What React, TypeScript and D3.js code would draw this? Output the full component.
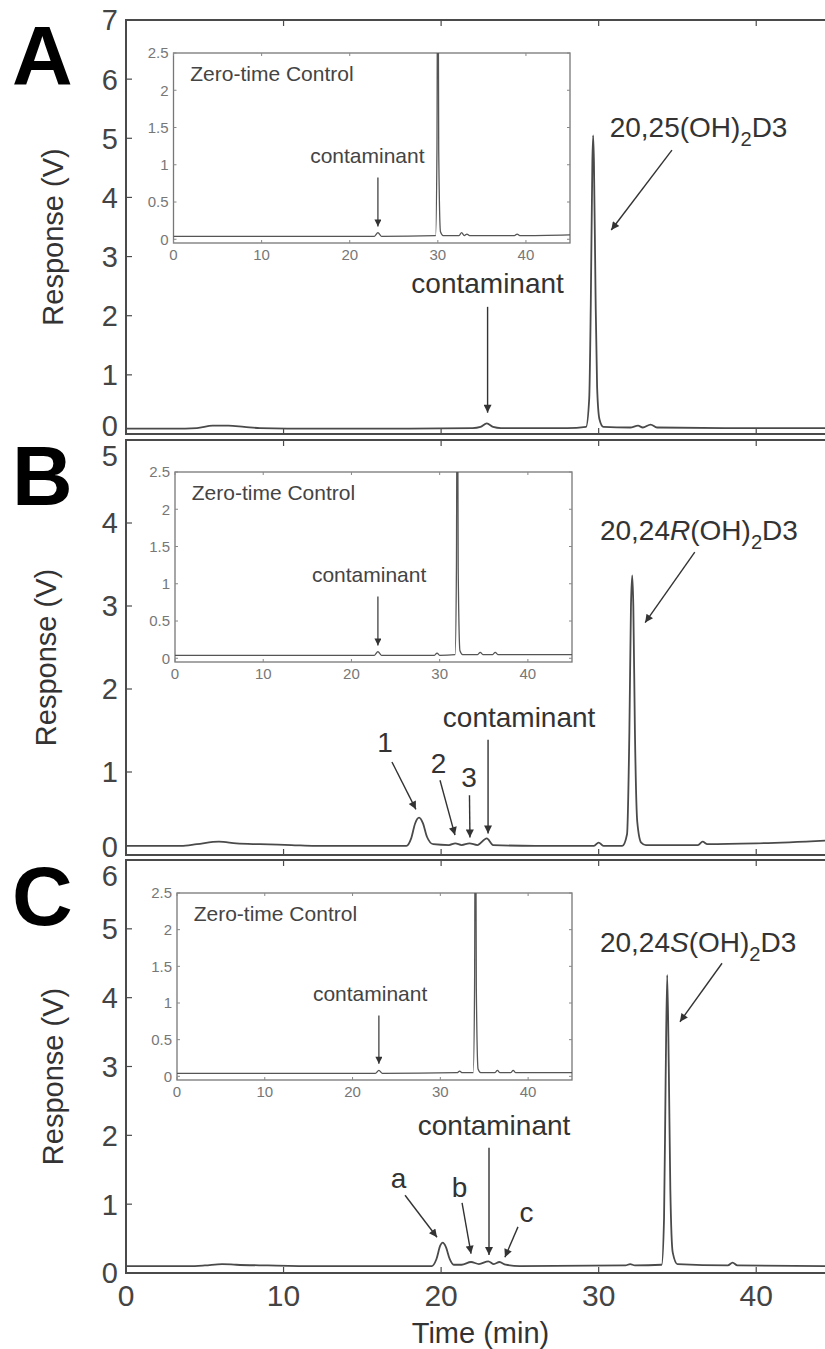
import React from 'react';
import * as d3 from 'd3';

// time axis (min)
const xTicks = [0, 10, 20, 30, 40];
const insetXTicks = [0, 10, 20, 30, 40];
const insetYTicks = [0, 0.5, 1, 1.5, 2, 2.5];

const panelLetters = ['A', 'B', 'C'];
const yMaxes = [7, 5, 6];
const yTicksA = [0, 1, 2, 3, 4, 5, 6, 7];
const yTicksB = [0, 1, 2, 3, 4, 5];
const yTicksC = [0, 1, 2, 3, 4, 5, 6];

// main chromatograms: [time (min), response (V)]
const traceA: [number, number][] = [
  [0, 0.09], [3, 0.09], [4.5, 0.1], [5.5, 0.14], [6.5, 0.14], [7.5, 0.12], [8.5, 0.1], [12, 0.09],
  [18, 0.09], [22, 0.1], [22.5, 0.12], [22.9, 0.18], [23.3, 0.12], [23.8, 0.1], [28, 0.1],
  [29.2, 0.12], [29.4, 0.6], [29.5, 2.2], [29.6, 4.6], [29.65, 5.05], [29.7, 4.6], [29.8, 2.4],
  [29.9, 0.8], [30.05, 0.25], [30.3, 0.12], [32, 0.11], [32.5, 0.14], [32.8, 0.11], [33.3, 0.16],
  [33.7, 0.11], [38, 0.1], [45, 0.1],
];
const traceB: [number, number][] = [
  [0, 0.11], [3.5, 0.11], [4.5, 0.13], [5.9, 0.16], [7, 0.14], [8.5, 0.13], [10.5, 0.12], [12, 0.11],
  [17.8, 0.11], [18.1, 0.2], [18.35, 0.38], [18.6, 0.45], [18.85, 0.38], [19.1, 0.22], [19.5, 0.13],
  [20.5, 0.12], [20.9, 0.14], [21.3, 0.12], [21.8, 0.14], [22.3, 0.12], [22.9, 0.2], [23.3, 0.12],
  [26, 0.11], [29.7, 0.11], [30.0, 0.15], [30.3, 0.11], [31.5, 0.11], [31.8, 0.25], [31.95, 1.5],
  [32.05, 3.0], [32.13, 3.37], [32.2, 3.0], [32.3, 1.5], [32.45, 0.4], [32.7, 0.15], [33, 0.12],
  [36.3, 0.12], [36.6, 0.16], [36.9, 0.13], [40, 0.14], [45, 0.18],
];
const traceC: [number, number][] = [
  [0, 0.1], [4, 0.1], [5, 0.11], [6.1, 0.13], [7, 0.12], [9, 0.11], [12, 0.1], [19.4, 0.1],
  [19.7, 0.2], [19.95, 0.4], [20.1, 0.44], [20.3, 0.38], [20.55, 0.2], [20.8, 0.12], [21.3, 0.12],
  [21.9, 0.16], [22.4, 0.13], [23.0, 0.17], [23.35, 0.13], [23.7, 0.16], [24.1, 0.12], [25, 0.1],
  [31.7, 0.11], [32, 0.13], [32.3, 0.11], [34, 0.12], [34.15, 0.8], [34.25, 2.8], [34.35, 4.33],
  [34.45, 3.0], [34.55, 1.2], [34.7, 0.3], [35, 0.13], [38.2, 0.11], [38.5, 0.15], [38.8, 0.11],
  [45, 0.1],
];

// zero-time control insets
const insetA: [number, number][] = [
  [0, 0.04], [22.8, 0.04], [23.2, 0.09], [23.6, 0.04], [29.75, 0.05], [29.9, 1.2], [30.0, 5],
  [30.1, 1.2], [30.3, 0.1], [30.6, 0.05], [32.4, 0.05], [32.7, 0.09], [33.0, 0.05], [33.3, 0.07],
  [33.6, 0.05], [38.7, 0.05], [39.0, 0.07], [39.3, 0.05], [45, 0.06],
];
const insetB: [number, number][] = [
  [0, 0.04], [22.6, 0.04], [23.0, 0.09], [23.4, 0.04], [29.4, 0.04], [29.7, 0.07], [30, 0.04],
  [31.75, 0.05], [31.9, 1.2], [32.0, 5], [32.1, 1.2], [32.3, 0.1], [32.6, 0.05], [34.3, 0.05],
  [34.6, 0.08], [34.9, 0.05], [36.0, 0.05], [36.3, 0.08], [36.6, 0.05], [45, 0.05],
];
const insetC: [number, number][] = [
  [0, 0.04], [22.6, 0.04], [23.0, 0.08], [23.4, 0.04], [31.9, 0.05], [32.2, 0.07], [32.5, 0.05],
  [33.75, 0.05], [33.9, 1.2], [34.0, 5], [34.1, 1.2], [34.3, 0.1], [34.6, 0.05], [36.2, 0.05],
  [36.5, 0.08], [36.8, 0.05], [38.0, 0.05], [38.3, 0.08], [38.6, 0.05], [45, 0.05],
];
const insetContaminantTimes = [23.2, 23.0, 23.0];

type Seg = { t: string; italic?: boolean; sub?: boolean };
type Ann = { parts: Seg[]; tx: number; ty: number; anchor: string; x1: number; y1: number; x2: number; y2: number };

// annotations in data coordinates (time, V)
const annA: Ann[] = [
  { parts: [{ t: '20,25(OH)' }, { t: '2', sub: true }, { t: 'D3' }], tx: 30.7, ty: 5.02, anchor: 'start', x1: 34.65, y1: 4.8, x2: 30.8, y2: 3.45 },
  { parts: [{ t: 'contaminant' }], tx: 22.95, ty: 2.38, anchor: 'middle', x1: 22.95, y1: 2.15, x2: 22.95, y2: 0.36 },
];
const annB: Ann[] = [
  { parts: [{ t: '20,24' }, { t: 'R', italic: true }, { t: '(OH)' }, { t: '2', sub: true }, { t: 'D3' }], tx: 30.08, ty: 3.8, anchor: 'start', x1: 36.1, y1: 3.65, x2: 32.95, y2: 2.8 },
  { parts: [{ t: 'contaminant' }], tx: 24.95, ty: 1.54, anchor: 'middle', x1: 22.98, y1: 1.39, x2: 22.98, y2: 0.26 },
  { parts: [{ t: '1' }], tx: 16.44, ty: 1.24, anchor: 'middle', x1: 16.88, y1: 1.12, x2: 18.4, y2: 0.55 },
  { parts: [{ t: '2' }], tx: 19.83, ty: 0.99, anchor: 'middle', x1: 19.93, y1: 0.9, x2: 20.88, y2: 0.24 },
  { parts: [{ t: '3' }], tx: 21.77, ty: 0.82, anchor: 'middle', x1: 21.8, y1: 0.72, x2: 21.83, y2: 0.21 },
];
const annC: Ann[] = [
  { parts: [{ t: '20,24' }, { t: 'S', italic: true }, { t: '(OH)' }, { t: '2', sub: true }, { t: 'D3' }], tx: 30.08, ty: 4.66, anchor: 'start', x1: 37.83, y1: 4.5, x2: 35.16, y2: 3.65 },
  { parts: [{ t: 'contaminant' }], tx: 23.36, ty: 2.0, anchor: 'middle', x1: 23.04, y1: 1.82, x2: 23.04, y2: 0.26 },
  { parts: [{ t: 'a' }], tx: 17.3, ty: 1.23, anchor: 'middle', x1: 17.71, y1: 1.13, x2: 19.74, y2: 0.52 },
  { parts: [{ t: 'b' }], tx: 21.17, ty: 1.1, anchor: 'middle', x1: 21.33, y1: 1.02, x2: 21.9, y2: 0.28 },
  { parts: [{ t: 'c' }], tx: 25.42, ty: 0.74, anchor: 'middle', x1: 24.88, y1: 0.67, x2: 24.05, y2: 0.23 },
];

const W = 825;
const H = 1349;
const FONT = "'Liberation Sans', Arial, Helvetica, sans-serif";
const plotLeft = 126;
const plotRight = 835;
const boxes = [
  { top: 20, bottom: 434 },
  { top: 440, bottom: 855 },
  { top: 860, bottom: 1273 },
];
const insetBoxes = [
  { left: 173.5, right: 570, top: 53, bottom: 243 },
  { left: 175, right: 572, top: 472, bottom: 662 },
  { left: 177, right: 572, top: 893, bottom: 1080 },
];
const yLabelX = [63, 56, 63];

const traces = [traceA, traceB, traceC];
const insets = [insetA, insetB, insetC];
const yTicks = [yTicksA, yTicksB, yTicksC];
const anns = [annA, annB, annC];

const LINE = '#4a4a4a';
const TEXT = '#333';

function Label({ a, x, y, size }: { a: Ann; x: (v: number) => number; y: (v: number) => number; size: number }) {
  return (
    <g>
      <line x1={x(a.x1)} y1={y(a.y1)} x2={x(a.x2)} y2={y(a.y2)} stroke="#333" strokeWidth={1.4} markerEnd="url(#arrow)" />
      <text x={x(a.tx)} y={y(a.ty)} textAnchor={a.anchor} fontSize={size} fill={TEXT} fontFamily={FONT}>
        {a.parts.map((p, i) => {
          const prevSub = i > 0 && a.parts[i - 1].sub;
          const dy = p.sub ? size * 0.32 : prevSub ? -size * 0.32 : 0;
          return (
            <tspan key={i} dy={dy} fontStyle={p.italic ? 'italic' : 'normal'} fontSize={p.sub ? size * 0.72 : size}>
              {p.t}
            </tspan>
          );
        })}
      </text>
    </g>
  );
}

function Panel({ idx }: { idx: number }) {
  const box = boxes[idx];
  const ib = insetBoxes[idx];
  const x = d3.scaleLinear().domain([0, 45]).range([plotLeft, plotRight]);
  const y = d3.scaleLinear().domain([0, yMaxes[idx]]).range([box.bottom, box.top]);
  const ix = d3.scaleLinear().domain([0, 45]).range([ib.left, ib.right]);
  const iy = d3.scaleLinear().domain([-0.05, 2.5]).range([ib.bottom, ib.top]);

  const line = d3.line<[number, number]>().x(d => x(d[0])).y(d => y(d[1])).curve(d3.curveMonotoneX);
  const iline = d3.line<[number, number]>().x(d => ix(d[0])).y(d => iy(d[1])).curve(d3.curveMonotoneX);

  const ct = insetContaminantTimes[idx];

  return (
    <g>
      <defs>
        <clipPath id={`clip-main-${idx}`}>
          <rect x={plotLeft} y={box.top} width={plotRight - plotLeft} height={box.bottom - box.top} />
        </clipPath>
        <clipPath id={`clip-inset-${idx}`}>
          <rect x={ib.left} y={ib.top} width={ib.right - ib.left} height={ib.bottom - ib.top} />
        </clipPath>
      </defs>

      {/* panel letter */}
      <text x={12} y={[85, 505, 925][idx]} fontSize={84} fontWeight="bold" fontFamily={FONT} fill="#000">
        {panelLetters[idx]}
      </text>

      {/* y label */}
      <text
        transform={`translate(${yLabelX[idx]},${(box.top + box.bottom) / 2 + 10}) rotate(-90)`}
        textAnchor="middle" fontSize={29} fill={TEXT} fontFamily={FONT}
      >
        Response (V)
      </text>

      {/* main frame */}
      <rect x={plotLeft} y={box.top} width={plotRight - plotLeft} height={box.bottom - box.top} fill="none" stroke={LINE} strokeWidth={2} />
      {yTicks[idx].map(t => {
        let ly = y(t);
        if (idx > 0) ly = Math.max(ly, box.top + 16);
        if (idx < 2) ly = Math.min(ly, box.bottom - 8);
        return (
          <g key={t}>
            <line x1={plotLeft} x2={plotLeft + 6} y1={y(t)} y2={y(t)} stroke={LINE} strokeWidth={1.2} />
            <text x={118} y={ly} dy="0.36em" textAnchor="end" fontSize={29} fill="#444" fontFamily={FONT}>{t}</text>
          </g>
        );
      })}
      {xTicks.filter(t => t > 0).map(t => (
        <g key={t}>
          <line x1={x(t)} x2={x(t)} y1={box.bottom} y2={box.bottom - 6} stroke={LINE} strokeWidth={1.2} />
          <line x1={x(t)} x2={x(t)} y1={box.top} y2={box.top + 6} stroke={LINE} strokeWidth={1.2} />
        </g>
      ))}
      {idx === 2 && xTicks.map(t => (
        <text key={t} x={x(t)} y={box.bottom + 33} textAnchor="middle" fontSize={30} fill="#444" fontFamily={FONT}>{t}</text>
      ))}

      {/* main trace */}
      <path d={line(traces[idx]) || ''} fill="none" stroke={LINE} strokeWidth={1.8} clipPath={`url(#clip-main-${idx})`} />

      {/* annotations */}
      {anns[idx].map((a, i) => <Label key={i} a={a} x={x} y={y} size={28} />)}

      {/* inset */}
      <rect x={ib.left} y={ib.top} width={ib.right - ib.left} height={ib.bottom - ib.top} fill="#fff" stroke="#777" strokeWidth={1.3} />
      {insetYTicks.map(t => (
        <g key={t}>
          <line x1={ib.left} x2={ib.left + 3} y1={iy(t)} y2={iy(t)} stroke="#888" />
          <line x1={ib.right} x2={ib.right - 3} y1={iy(t)} y2={iy(t)} stroke="#888" />
          <text x={ib.left - 5} y={iy(t)} dy="0.36em" textAnchor="end" fontSize={15} fill="#777" fontFamily={FONT}>{t}</text>
        </g>
      ))}
      {insetXTicks.map(t => (
        <g key={t}>
          <line x1={ix(t)} x2={ix(t)} y1={ib.bottom} y2={ib.bottom - 3} stroke="#888" />
          <line x1={ix(t)} x2={ix(t)} y1={ib.top} y2={ib.top + 3} stroke="#888" />
          <text x={ix(t)} y={ib.bottom + 17} textAnchor="middle" fontSize={15} fill="#777" fontFamily={FONT}>{t}</text>
        </g>
      ))}
      <path d={iline(insets[idx]) || ''} fill="none" stroke="#555" strokeWidth={1.3} clipPath={`url(#clip-inset-${idx})`} />
      <text x={ix(1.9)} y={iy(2.12)} fontSize={21} fill="#444" fontFamily={FONT}>Zero-time Control</text>
      <text x={ix(22.0)} y={iy(1.03)} textAnchor="middle" fontSize={21} fill="#444" fontFamily={FONT}>contaminant</text>
      <line x1={ix(ct)} y1={iy(0.83)} x2={ix(ct)} y2={iy(0.17)} stroke="#333" strokeWidth={1.2} markerEnd="url(#arrowSmall)" />
    </g>
  );
}

export default function App() {
  return (
    <div style={{ position: 'absolute', left: 0, top: 0, width: W, height: H, overflow: 'hidden', background: '#fff' }}>
      <svg width={W} height={H} viewBox={`0 0 ${W} ${H}`} style={{ display: 'block' }}>
        <defs>
          <marker id="arrow" viewBox="0 0 10 10" refX={10} refY={5} markerWidth={10} markerHeight={8} markerUnits="userSpaceOnUse" orient="auto">
            <path d="M0,0 L10,5 L0,10 z" fill="#333" />
          </marker>
          <marker id="arrowSmall" viewBox="0 0 10 10" refX={10} refY={5} markerWidth={8} markerHeight={7} markerUnits="userSpaceOnUse" orient="auto">
            <path d="M0,0 L10,5 L0,10 z" fill="#333" />
          </marker>
        </defs>
        <rect width={W} height={H} fill="#fff" />
        {[0, 1, 2].map(i => <Panel key={i} idx={i} />)}
        <text x={(plotLeft + plotRight) / 2} y={1343} textAnchor="middle" fontSize={29} fill={TEXT} fontFamily={FONT}>
          Time (min)
        </text>
      </svg>
    </div>
  );
}
